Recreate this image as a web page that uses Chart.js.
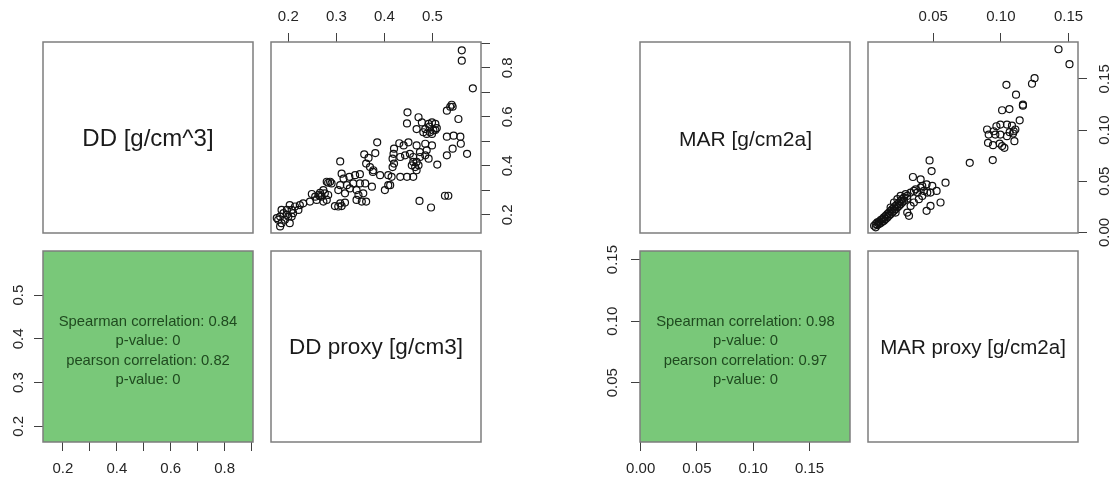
<!DOCTYPE html>
<html><head><meta charset="utf-8">
<script src="https://cdn.jsdelivr.net/npm/chart.js@4.4.1/dist/chart.umd.min.js"></script>
<style>
html,body{margin:0;padding:0;background:#fff;width:1116px;height:480px;overflow:hidden;font-family:"Liberation Sans",Arial,Helvetica,sans-serif;}
canvas{position:absolute;}
.txt{position:absolute;transform:translate(-50%,-50%);white-space:nowrap;line-height:1;z-index:5;}
</style></head><body>
<script>
// ---------- data ----------
const ddProxy = [0.561,0.561,0.584,0.540,0.537,0.530,0.542,0.554,0.448,0.447,0.471,0.478,0.467,0.485,0.492,0.499,0.506,0.509,0.502,0.495,0.488,0.481,0.499,0.494,0.506,0.530,0.544,0.558,0.559,0.542,0.530,0.572,0.510,0.473,0.497,0.526,0.533,0.385,0.381,0.420,0.419,0.417,0.420,0.417,0.431,0.440,0.450,0.433,0.443,0.453,0.467,0.485,0.474,0.488,0.499,0.485,0.492,0.474,0.460,0.457,0.464,0.471,0.467,0.460,0.447,0.433,0.415,0.412,0.408,0.401,0.408,0.391,0.376,0.374,0.467,0.460,0.308,0.311,0.315,0.327,0.339,0.349,0.322,0.335,0.349,0.360,0.308,0.304,0.318,0.342,0.328,0.346,0.356,0.353,0.362,0.342,0.297,0.304,0.311,0.318,0.308,0.358,0.367,0.362,0.370,0.377,0.280,0.287,0.290,0.283,0.273,0.266,0.263,0.256,0.249,0.276,0.283,0.269,0.259,0.245,0.280,0.273,0.266,0.231,0.224,0.214,0.207,0.203,0.197,0.190,0.183,0.179,0.186,0.183,0.193,0.200,0.207,0.203,0.210,0.221,0.176,0.186,0.197];
const dd = [0.871,0.829,0.716,0.649,0.641,0.625,0.641,0.591,0.618,0.573,0.598,0.577,0.550,0.550,0.571,0.577,0.571,0.554,0.544,0.537,0.530,0.537,0.530,0.560,0.546,0.519,0.523,0.519,0.490,0.470,0.443,0.449,0.405,0.257,0.230,0.278,0.278,0.496,0.452,0.470,0.449,0.429,0.409,0.395,0.492,0.483,0.496,0.436,0.443,0.449,0.483,0.490,0.456,0.463,0.483,0.443,0.429,0.436,0.416,0.402,0.395,0.402,0.382,0.355,0.355,0.355,0.355,0.321,0.321,0.301,0.362,0.362,0.375,0.315,0.416,0.436,0.418,0.368,0.348,0.355,0.362,0.366,0.321,0.328,0.328,0.328,0.321,0.301,0.288,0.301,0.308,0.281,0.288,0.254,0.254,0.261,0.236,0.234,0.236,0.250,0.247,0.447,0.432,0.409,0.395,0.382,0.335,0.335,0.328,0.331,0.301,0.290,0.281,0.274,0.285,0.288,0.281,0.274,0.261,0.254,0.261,0.254,0.277,0.247,0.240,0.234,0.220,0.240,0.220,0.207,0.193,0.180,0.166,0.153,0.180,0.193,0.193,0.166,0.207,0.220,0.187,0.220,0.200];
const marProxy = [0.1426,0.1507,0.1249,0.1230,0.1041,0.1112,0.1163,0.1163,0.1009,0.1063,0.1139,0.0996,0.1045,0.1082,0.1107,0.1095,0.1090,0.1065,0.0967,0.0947,0.0898,0.0910,0.0959,0.0905,0.0942,0.0991,0.1009,0.1026,0.1100,0.0996,0.1045,0.0770,0.0940,0.0473,0.0488,0.0350,0.0407,0.0451,0.0591,0.0480,0.0525,0.0554,0.0451,0.0480,0.0321,0.0419,0.0370,0.0333,0.0308,0.0357,0.0382,0.0407,0.0431,0.0456,0.0493,0.0419,0.0394,0.0357,0.0333,0.0284,0.0296,0.0259,0.0063,0.0075,0.0087,0.0100,0.0112,0.0124,0.0136,0.0149,0.0161,0.0173,0.0185,0.0198,0.0210,0.0222,0.0235,0.0247,0.0259,0.0271,0.0087,0.0112,0.0136,0.0161,0.0185,0.0210,0.0235,0.0259,0.0284,0.0308,0.0210,0.0235,0.0075,0.0100,0.0124,0.0149,0.0173,0.0198,0.0222,0.0247,0.0271,0.0185,0.0222,0.0308];
const mar = [0.1789,0.1643,0.1507,0.1452,0.1442,0.1345,0.1248,0.1238,0.1193,0.1205,0.1095,0.1053,0.1053,0.1043,0.1005,0.0988,0.0966,0.0979,0.1037,0.0988,0.1005,0.0956,0.0956,0.0875,0.0852,0.0868,0.0843,0.0826,0.0891,0.0956,0.0940,0.0680,0.0706,0.0703,0.0599,0.0541,0.0518,0.0470,0.0486,0.0389,0.0405,0.0292,0.0211,0.0259,0.0162,0.0454,0.0421,0.0389,0.0356,0.0405,0.0389,0.0437,0.0405,0.0389,0.0454,0.0356,0.0324,0.0292,0.0259,0.0340,0.0373,0.0356,0.0065,0.0081,0.0097,0.0104,0.0120,0.0130,0.0146,0.0162,0.0178,0.0194,0.0211,0.0227,0.0243,0.0259,0.0275,0.0292,0.0308,0.0324,0.0071,0.0091,0.0113,0.0146,0.0178,0.0211,0.0243,0.0275,0.0308,0.0331,0.0292,0.0324,0.0049,0.0081,0.0104,0.0130,0.0162,0.0194,0.0227,0.0259,0.0292,0.0243,0.0194,0.0194];

const ddTicks = [0.2,0.3,0.4,0.5,0.6,0.7,0.8,0.9];
const ddTickLabels = ['0.2','','0.4','','0.6','','0.8',''];
const ddProxyTicks = [0.2,0.3,0.4,0.5];
const ddProxyTickLabels = ['0.2','0.3','0.4','0.5'];
const marTicks = [0,0.05,0.1,0.15];
const marTickLabels = ['0.00','0.05','0.10','0.15'];
const marProxyTicks = [0.05,0.1,0.15];
const marProxyTickLabels = ['0.05','0.10','0.15'];

const varLabels = ['DD [g/cm^3]','DD proxy [g/cm3]','MAR [g/cm2a]','MAR proxy [g/cm2a]'];
const corrLeft = ['Spearman correlation: 0.84','p-value: 0','pearson correlation: 0.82','p-value: 0'];
const corrRight = ['Spearman correlation: 0.98','p-value: 0','pearson correlation: 0.97','p-value: 0'];

// ---------- layout / style ----------
const M = 40, W = 210, H = 191;
const FONT = '"Liberation Sans", Arial, Helvetica, sans-serif';
const GREEN = '#79c879';
const ranges = {
  dd: [0.126, 0.905], ddProxy: [0.164, 0.601],
  mar: [-0.0006, 0.186], marProxy: [0.0018, 0.157]
};

const framePlugin = {
  id: 'frame',
  beforeDraw(chart, args, o) {
    if (!o.fill) return;
    const a = chart.chartArea, ctx = chart.ctx;
    ctx.save(); ctx.fillStyle = o.fill;
    ctx.fillRect(a.left, a.top, a.right - a.left, a.bottom - a.top);
    ctx.restore();
  },
  afterDraw(chart, args, o) {
    const a = chart.chartArea, ctx = chart.ctx;
    ctx.save(); ctx.strokeStyle = '#7d7d7d'; ctx.lineWidth = 1.5;
    ctx.strokeRect(a.left, a.top, a.right - a.left, a.bottom - a.top);
    ctx.restore();
  }
};

function makeCanvas(L, T) {
  const c = document.createElement('canvas');
  c.width = W + 2 * M; c.height = H + 2 * M;
  c.style.left = (L - M) + 'px'; c.style.top = (T - M) + 'px';
  c.style.width = (W + 2 * M) + 'px'; c.style.height = (H + 2 * M) + 'px';
  document.body.appendChild(c);
  return c;
}

function axis(a) {
  const vertical = a.pos === 'left' || a.pos === 'right';
  return {
    type: 'linear', position: a.pos, min: a.range[0], max: a.range[1], bounds: 'data',
    afterBuildTicks: s => { s.ticks = a.ticks.map(v => ({ value: v })); },
    afterFit: s => { if (vertical) s.width = M; else s.height = M; },
    grid: { display: true, drawOnChartArea: false, drawTicks: true, tickLength: 9, tickWidth: 1, tickColor: '#404040', color: '#404040' },
    border: { display: false },
    ticks: {
      autoSkip: false, color: '#262626', padding: a.pad,
      font: { family: FONT, size: 15 },
      minRotation: vertical ? 90 : 0, maxRotation: vertical ? 90 : 0,
      crossAlign: vertical ? 'center' : 'near',
      callback: (v, i) => a.labels[i]
    }
  };
}

function panel(L, T, cfg) {
  const cv = makeCanvas(L, T);
  const pad = { left: M, right: M, top: M, bottom: M };
  const scales = {};
  if (cfg.x) { scales.x = axis(cfg.x); pad[cfg.x.pos] = 0; }
  else scales.x = { type: 'linear', display: false, min: 0, max: 1 };
  if (cfg.y) { scales.y = axis(cfg.y); pad[cfg.y.pos] = 0; }
  else scales.y = { type: 'linear', display: false, min: 0, max: 1 };
  new Chart(cv, {
    type: 'scatter',
    data: { datasets: cfg.datasets || [{ data: [] }] },
    options: {
      responsive: false, animation: false, devicePixelRatio: 1,
      layout: { padding: pad }, scales,
      plugins: { legend: { display: false }, tooltip: { enabled: false }, frame: { fill: cfg.fill || null } }
    },
    plugins: [framePlugin]
  });
}

function pts(xs, ys) {
  return [{
    data: xs.map((x, i) => ({ x, y: ys[i] })),
    pointRadius: 3.5, pointBorderWidth: 1.2, pointBorderColor: '#111111',
    pointBackgroundColor: 'rgba(0,0,0,0)', showLine: false
  }];
}

function text(str, x, y, size, color) {
  const d = document.createElement('div');
  d.className = 'txt'; d.textContent = str;
  d.style.left = x + 'px'; d.style.top = y + 'px';
  d.style.fontSize = size + 'px'; d.style.color = color;
  document.body.appendChild(d);
}

// ---------- left pairs plot ----------
panel(43, 42, {});
panel(271, 42, {
  x: { pos: 'top', range: ranges.ddProxy, ticks: ddProxyTicks, labels: ddProxyTickLabels, pad: 7 },
  y: { pos: 'right', range: ranges.dd, ticks: ddTicks, labels: ddTickLabels, pad: 7.5 },
  datasets: pts(ddProxy, dd)
});
panel(43, 251, {
  x: { pos: 'bottom', range: ranges.dd, ticks: ddTicks, labels: ddTickLabels, pad: 9 },
  y: { pos: 'left', range: ranges.ddProxy, ticks: ddProxyTicks, labels: ddProxyTickLabels, pad: 4.5 },
  fill: GREEN
});
panel(271, 251, {});

// ---------- right pairs plot ----------
panel(640, 42, {});
panel(868, 42, {
  x: { pos: 'top', range: ranges.marProxy, ticks: marProxyTicks, labels: marProxyTickLabels, pad: 7 },
  y: { pos: 'right', range: ranges.mar, ticks: marTicks, labels: marTickLabels, pad: 3.5 },
  datasets: pts(marProxy, mar)
});
panel(640, 251, {
  x: { pos: 'bottom', range: ranges.mar, ticks: marTicks, labels: marTickLabels, pad: 9 },
  y: { pos: 'left', range: ranges.marProxy, ticks: marProxyTicks, labels: marProxyTickLabels, pad: 3.5 },
  fill: GREEN
});
panel(868, 251, {});

// ---------- panel texts ----------
text(varLabels[0], 148, 138, 24, '#1a1a1a');
text(varLabels[1], 376, 347, 22.5, '#1a1a1a');
text(varLabels[2], 745.5, 138, 21, '#1a1a1a');
text(varLabels[3], 973, 347, 20.5, '#1a1a1a');
const corrY = [321, 339.5, 360, 378.5];
corrLeft.forEach((s, i) => text(s, 148, corrY[i], 14.8, '#1f4a1f'));
corrRight.forEach((s, i) => text(s, 745.5, corrY[i], 14.8, '#1f4a1f'));
</script>
</body></html>
